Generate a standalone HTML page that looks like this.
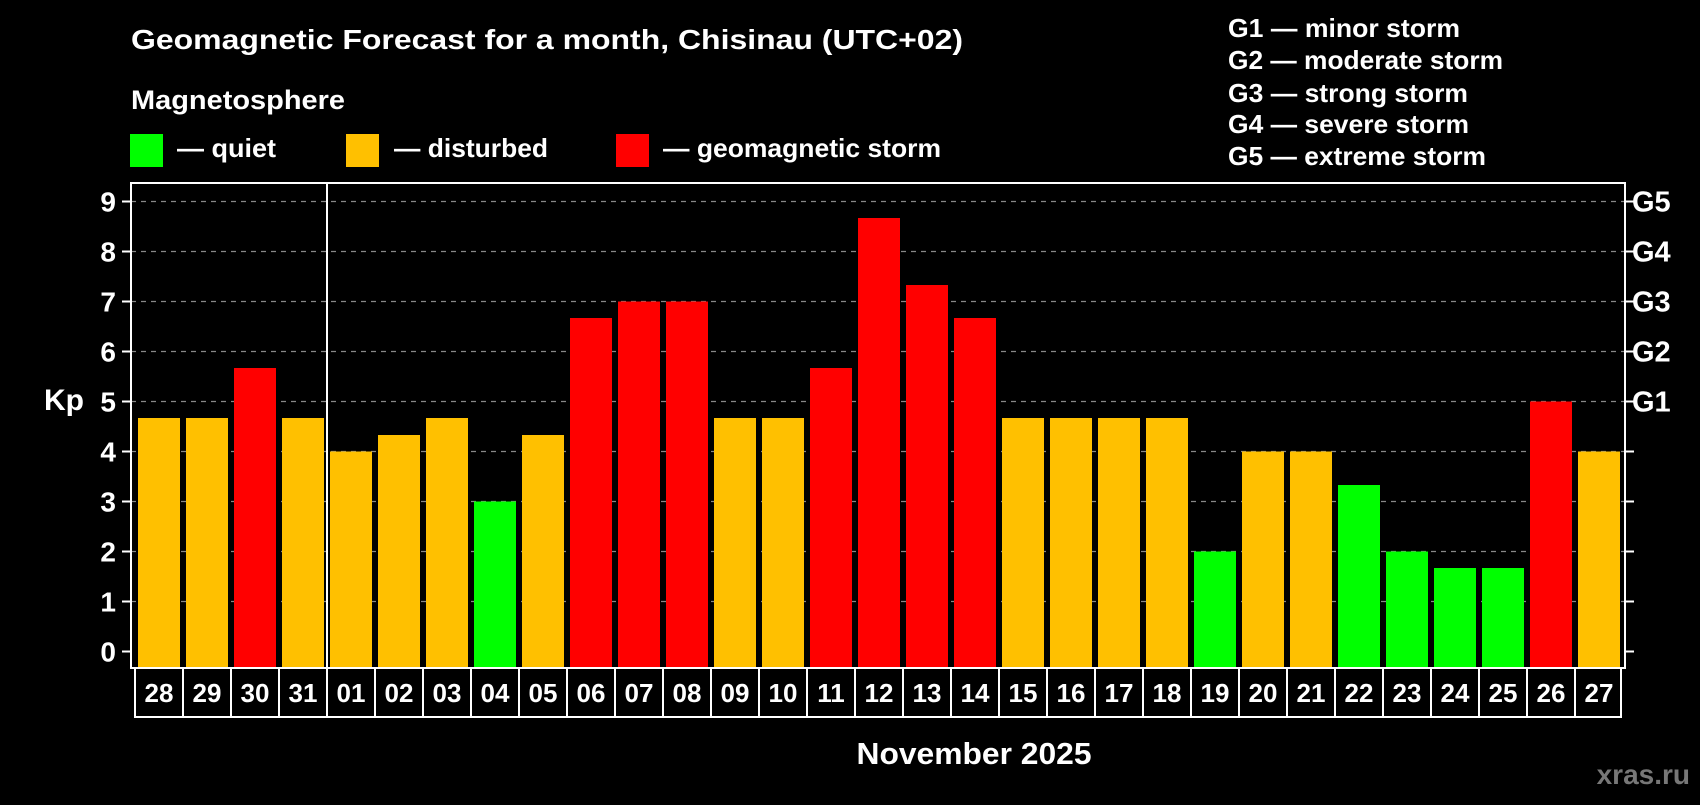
<!DOCTYPE html>
<html><head><meta charset="utf-8"><style>
body{margin:0;background:#000;width:1700px;height:800px;overflow:hidden;font-family:"Liberation Sans",sans-serif;font-weight:bold;color:#fff}
svg text{font-family:"Liberation Sans",sans-serif;font-weight:bold}
</style></head><body>
<svg id="c" width="1700" height="800">
<text x="131" y="49" font-size="28" fill="#fff" textLength="832" lengthAdjust="spacingAndGlyphs">Geomagnetic Forecast for a month, Chisinau (UTC+02)</text>
<text x="131" y="109" font-size="27" fill="#fff" textLength="214" lengthAdjust="spacingAndGlyphs">Magnetosphere</text>
<rect x="130" y="134" width="33" height="33" fill="#00ff00"/>
<text x="177" y="157" font-size="26" fill="#fff" textLength="99" lengthAdjust="spacingAndGlyphs">— quiet</text>
<rect x="346" y="134" width="33" height="33" fill="#ffc000"/>
<text x="394" y="157" font-size="26" fill="#fff" textLength="154" lengthAdjust="spacingAndGlyphs">— disturbed</text>
<rect x="616" y="134" width="33" height="33" fill="#ff0000"/>
<text x="663" y="157" font-size="26" fill="#fff" textLength="278" lengthAdjust="spacingAndGlyphs">— geomagnetic storm</text>
<g font-size="26" fill="#fff">
<text x="1228" y="37" textLength="232" lengthAdjust="spacingAndGlyphs">G1 — minor storm</text>
<text x="1228" y="69" textLength="275" lengthAdjust="spacingAndGlyphs">G2 — moderate storm</text>
<text x="1228" y="102" textLength="240" lengthAdjust="spacingAndGlyphs">G3 — strong storm</text>
<text x="1228" y="133" textLength="241" lengthAdjust="spacingAndGlyphs">G4 — severe storm</text>
<text x="1228" y="165" textLength="258" lengthAdjust="spacingAndGlyphs">G5 — extreme storm</text>
</g>
<text x="64" y="410" font-size="30" fill="#fff" text-anchor="middle">Kp</text>
<text x="974" y="764" font-size="31" fill="#fff" text-anchor="middle" textLength="235" lengthAdjust="spacingAndGlyphs">November 2025</text>
<text x="1690" y="784" font-size="28" fill="#777" text-anchor="end">xras.ru</text>
<g id="plot"></g>
</svg>
<script>
const days=["28","29","30","31","01","02","03","04","05","06","07","08","09","10","11","12","13","14","15","16","17","18","19","20","21","22","23","24","25","26","27"];
const kp=[4.67,4.67,5.67,4.67,4,4.33,4.67,3,4.33,6.67,7,7,4.67,4.67,5.67,8.67,7.33,6.67,4.67,4.67,4.67,4.67,2,4,4,3.33,2,1.67,1.67,5,4];
const yTicks=[0,1,2,3,4,5,6,7,8,9];
const gLabels=["G1","G2","G3","G4","G5"];
const gLevels=[5,6,7,8,9];
const NS="http://www.w3.org/2000/svg";
const L=131,R=1625,T=183,B=668,pitch=48;
const y=v=>651.5-v*50;
const x=i=>138+i*pitch;
const g=document.getElementById('plot');
function mk(t,a){const e=document.createElementNS(NS,t);for(const k in a)e.setAttribute(k,a[k]);g.appendChild(e);return e;}
yTicks.forEach(v=>{
 if(v>0){const gl=mk('line',{x1:L,x2:R,y1:y(v),y2:y(v),stroke:'#888','stroke-width':1.3,'stroke-dasharray':'5,5'});
 
 }
 const t1=mk('line',{x1:L-9,x2:L,y1:y(v),y2:y(v),stroke:'#fff','stroke-width':2});
 
 
 const t2=mk('line',{x1:R,x2:R+9,y1:y(v),y2:y(v),stroke:'#fff','stroke-width':2});
 
 
 const tl=mk('text',{x:L-15,y:y(v)+10,'font-size':28,fill:'#fff','text-anchor':'end'});
 tl.textContent=v;
 
 
});
gLabels.forEach((s,i)=>{
 const t=mk('text',{x:R+7,y:y(gLevels[i])+10,'font-size':29,fill:'#fff'});
 t.textContent=s;
 
 
});
kp.forEach((v,i)=>{
 const c=v>=5?'#ff0000':(v>=4?'#ffc000':'#00ff00');
 const b=mk('rect',{x:x(i),y:y(v),width:42,height:B-y(v),fill:c});
 
 
});
const fr=mk('rect',{x:L,y:T,width:R-L,height:B-T,fill:'none',stroke:'#fff','stroke-width':2});


const sep=mk('line',{x1:x(4)-3,x2:x(4)-3,y1:T,y2:B,stroke:'#fff','stroke-width':2});


const lb=mk('rect',{x:135,y:B,width:R-135-4,height:49,fill:'none',stroke:'#fff','stroke-width':2});


days.forEach((d,i)=>{
 if(i>0){const dl=mk('line',{x1:x(i)-3,x2:x(i)-3,y1:B,y2:B+49,stroke:'#fff','stroke-width':2});
 
 }
 const t=mk('text',{x:x(i)+21,y:B+34,'font-size':26,fill:'#fff','text-anchor':'middle'});
 t.textContent=d;
 
 
});
</script>
</body></html>
